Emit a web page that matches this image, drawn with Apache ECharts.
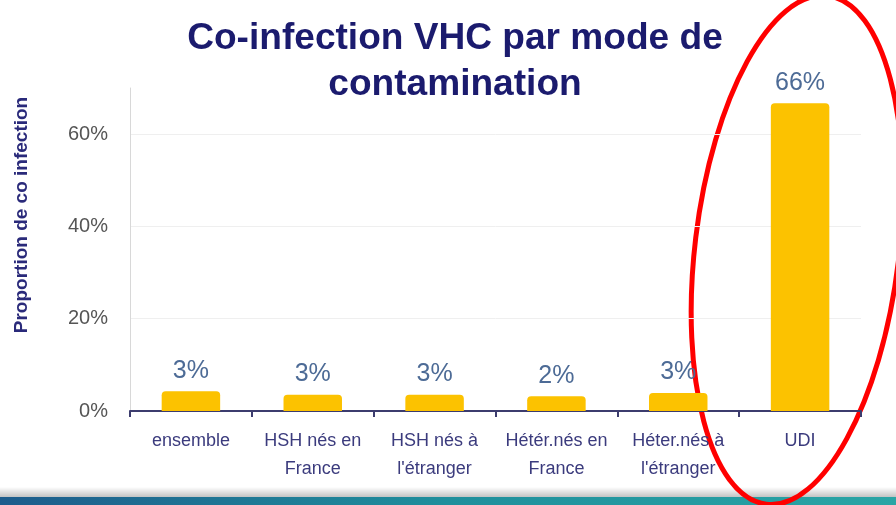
<!DOCTYPE html>
<html><head><meta charset="utf-8">
<script src="https://cdn.jsdelivr.net/npm/echarts@6/dist/echarts.min.js"></script>
<style>html,body{margin:0;padding:0;background:#fff}#c{width:896px;height:505px}</style>
</head><body><div id="c"></div>
<script>
const categories = ["ensemble", "HSH nés en\nFrance", "HSH nés à\nl'étranger", "Hétér.nés en\nFrance", "Héter.nés à\nl'étranger", "UDI"];
const values = [4.3, 3.5, 3.5, 3.2, 3.9, 66.7];
const valueLabels = ["3%", "3%", "3%", "2%", "3%", "66%"];
const yTicks = [0, 20, 40, 60];
const titleText = "Co-infection VHC par mode de\ncontamination";
const yName = "Proportion de co infection";

const chart = echarts.init(document.getElementById('c'), null, {renderer: 'canvas'});
chart.setOption({
  backgroundColor: '#ffffff',
  animation: false,
  grid: {left: 130, right: 35, top: 88, bottom: 94},
  xAxis: {
    type: 'category', data: categories,
    axisLine: {lineStyle: {color: '#3c3c6e', width: 2}},
    axisTick: {show: true, length: 6, lineStyle: {color: '#3c3c6e', width: 2}},
    axisLabel: {fontFamily: 'Liberation Sans', fontSize: 18, color: '#3b3b7d', lineHeight: 28, margin: 16, interval: 0}
  },
  yAxis: {
    type: 'value', min: 0, max: 70, interval: 20,
    axisLine: {show: true, lineStyle: {color: '#d8d8d8', width: 1}},
    axisTick: {show: false},
    axisLabel: {fontFamily: 'Liberation Sans', fontSize: 20, color: '#555555', margin: 22, showMaxLabel: false,
      formatter: v => yTicks.indexOf(v) >= 0 ? v + '%' : ''},
    splitLine: {show: true, lineStyle: {color: ['transparent', '#efefef', '#efefef', '#efefef', 'transparent'], width: 1}}
  },
  series: [{
    type: 'bar', data: values, barWidth: '48%',
    itemStyle: {color: '#fcc200', borderRadius: [4, 4, 0, 0]},
    label: {show: true, position: 'top', distance: 8, fontFamily: 'Liberation Sans', fontSize: 25, color: '#4d6b96',
      formatter: p => valueLabels[p.dataIndex]}
  }],
  graphic: [
    {type: 'text', x: 455, y: 16, scaleX: 1.03,
      style: {text: titleText, align: 'center', verticalAlign: 'top', fontFamily: 'Liberation Sans', fontWeight: 'bold',
        fontSize: 36, lineHeight: 46, fill: '#1b1b6e'}},
    {type: 'text', x: 12, y: 215, rotation: Math.PI / 2,
      style: {text: yName, align: 'center', verticalAlign: 'top', fontFamily: 'Liberation Sans', fontWeight: 'bold', fontSize: 19, fill: '#2a2a7a'}},
    {type: 'rect', shape: {x: 0, y: 487, width: 896, height: 11},
      style: {fill: new echarts.graphic.LinearGradient(0, 0, 0, 1, [{offset: 0, color: '#ffffff'}, {offset: 1, color: '#bdbdbd'}])}},
    {type: 'rect', shape: {x: 0, y: 497, width: 896, height: 8},
      style: {fill: new echarts.graphic.LinearGradient(0, 0, 1, 0, [{offset: 0, color: '#1d5c8c'}, {offset: 0.5, color: '#1f8f9c'}, {offset: 1, color: '#2aa5a5'}])}},
    {type: 'ellipse', shape: {cx: 0, cy: 0, rx: 102, ry: 256}, x: 797, y: 250, rotation: -0.12,
      style: {fill: 'none', stroke: '#ff0000', lineWidth: 5}}
  ]
});
</script></body></html>
